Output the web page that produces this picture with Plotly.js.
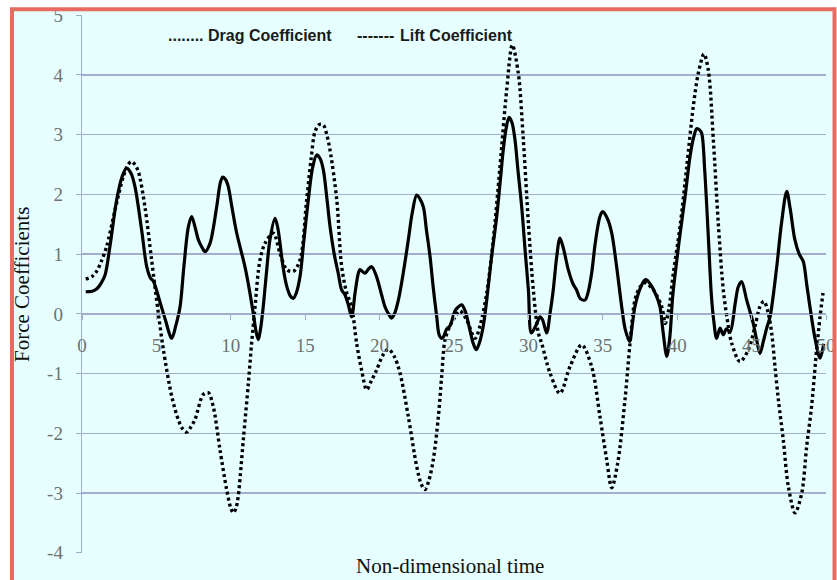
<!DOCTYPE html>
<html>
<head>
<meta charset="utf-8">
<script src="https://cdn.plot.ly/plotly-3.0.1.min.js"></script>
<style>
  html, body { margin: 0; padding: 0; background: #ffffff; }
  #chart { width: 837px; height: 580px; }
</style>
</head>
<body>
<div id="chart"></div>
<script>
// ---- Data ----
// Dotted series (legend: "Drag Coefficient")
const dragTime = [0.25,0.7,1.0,1.3,1.66,2.22,2.78,3.1,3.34,3.55,3.79,4.23,4.68,5.13,5.47,6.03,6.47,6.75,7.03,7.3,7.59,8.15,8.49,8.82,9.27,9.72,10.0,10.17,10.35,10.5,10.84,11.18,11.4,11.63,11.96,12.3,12.86,13.31,13.76,14.2,14.65,15.1,15.4,15.66,15.95,16.22,16.45,16.67,17.12,17.45,17.79,18.12,18.46,18.8,19.13,19.45,19.8,20.2,20.59,21.0,21.37,21.93,22.49,22.8,23.05,23.3,23.61,23.95,24.17,24.4,24.73,25.07,25.4,25.85,26.41,26.75,27.2,27.64,28.09,28.54,28.92,29.32,29.66,30.0,30.33,30.67,30.9,31.45,32.12,32.8,33.58,34.25,34.81,35.26,35.6,36.0,36.49,36.83,37.16,37.5,37.84,38.4,38.96,39.2,39.45,39.74,40.19,40.64,41.08,41.42,41.8,42.09,42.43,42.76,43.1,43.43,43.66,44.22,44.78,45.23,45.56,45.83,46.12,46.35,46.57,46.8,47.13,47.47,47.92,48.37,48.7,49.03,49.37,49.6,49.8];
const dragValue = [0.58,0.63,0.72,0.88,1.13,1.74,2.3,2.5,2.55,2.5,2.38,1.79,0.9,0.01,-0.6,-1.38,-1.77,-1.92,-1.98,-1.9,-1.77,-1.35,-1.32,-1.55,-2.27,-2.94,-3.25,-3.33,-3.25,-3.05,-2.11,-1.16,-0.49,0.12,0.9,1.18,1.35,1.01,0.74,0.71,0.9,1.91,2.6,3.05,3.17,3.16,3.0,2.74,1.91,0.79,0.35,0.12,-0.5,-0.95,-1.27,-1.12,-0.94,-0.7,-0.59,-0.72,-0.99,-1.72,-2.55,-2.85,-2.94,-2.8,-2.44,-1.72,-1.05,-0.43,-0.2,-0.05,0.05,-0.1,-0.41,-0.2,0.35,1.24,2.46,3.75,4.5,4.03,2.91,1.52,0.4,-0.32,-0.5,-0.99,-1.33,-0.88,-0.52,-0.88,-1.72,-2.44,-2.91,-2.5,-1.44,-0.49,0.23,0.45,0.52,0.4,0.12,-0.16,0.1,0.68,1.46,2.46,3.47,4.03,4.35,4.08,2.91,1.52,0.4,-0.2,-0.49,-0.8,-0.6,-0.21,0.12,0.21,0.01,-0.32,-0.88,-1.44,-2.11,-2.89,-3.33,-3.0,-2.22,-1.55,-0.6,-0.05,0.35];

// Solid series (legend: "Lift Coefficient")
const liftTime = [0.25,0.7,1.0,1.3,1.55,1.88,2.33,2.7,3.0,3.3,3.56,4.01,4.35,4.6,4.79,5.24,5.6,6.03,6.3,6.59,6.85,7.15,7.37,7.6,7.82,8.05,8.27,8.6,9.05,9.3,9.46,9.65,9.83,10.1,10.4,10.95,11.25,11.51,11.7,11.85,12.0,12.18,12.4,12.63,12.97,13.15,13.31,13.5,13.76,14.0,14.2,14.4,14.65,14.9,15.21,15.5,15.77,16.0,16.22,16.45,16.67,16.95,17.22,17.45,17.67,17.9,18.12,18.35,18.57,18.68,19.02,19.25,19.47,19.8,20.1,20.36,20.6,20.81,21.0,21.26,21.6,21.93,22.2,22.49,22.7,22.94,23.15,23.39,23.6,23.84,24.0,24.17,24.3,24.51,24.73,25.07,25.3,25.52,25.75,26.07,26.3,26.5,26.75,26.97,27.2,27.5,27.87,28.1,28.31,28.5,28.7,28.9,29.1,29.3,29.55,29.8,30.0,30.2,30.5,30.78,30.95,31.23,31.45,31.67,31.9,32.12,32.35,32.68,33.0,33.24,33.47,33.8,34.0,34.25,34.5,34.81,34.99,35.3,35.6,35.93,36.27,36.5,36.8,37.0,37.16,37.5,37.84,37.95,38.29,38.6,38.84,39.05,39.3,39.5,39.7,40.0,40.2,40.55,40.86,41.1,41.31,41.5,41.65,41.85,42.09,42.3,42.45,42.65,42.88,43.1,43.3,43.55,43.9,44.1,44.33,44.67,45.11,45.35,45.56,45.8,46.0,46.24,46.69,47.0,47.36,47.6,47.9,48.2,48.47,48.7,48.92,49.26,49.6,49.85];
const liftValue = [0.37,0.38,0.42,0.52,0.65,1.13,1.91,2.3,2.44,2.35,2.13,1.4,0.79,0.6,0.55,0.2,-0.1,-0.41,-0.2,0.12,0.8,1.46,1.63,1.45,1.24,1.12,1.04,1.18,1.79,2.2,2.29,2.25,2.13,1.75,1.35,0.79,0.4,0.01,-0.3,-0.43,-0.25,0.12,0.7,1.24,1.6,1.45,1.18,0.8,0.46,0.3,0.26,0.35,0.62,1.2,1.91,2.45,2.66,2.6,2.41,1.95,1.46,1.0,0.68,0.4,0.32,0.15,-0.05,0.35,0.68,0.74,0.68,0.75,0.79,0.62,0.35,0.12,0.0,-0.07,0.0,0.23,0.7,1.24,1.7,1.99,1.93,1.79,1.4,0.96,0.45,-0.05,-0.35,-0.41,-0.38,-0.25,-0.2,0.05,0.12,0.15,0.05,-0.27,-0.5,-0.6,-0.45,-0.2,0.23,0.9,1.63,2.2,2.74,3.1,3.29,3.2,2.91,2.4,1.79,1.0,0.4,-0.32,-0.2,-0.05,-0.1,-0.32,0.0,0.4,0.95,1.27,1.1,0.74,0.5,0.4,0.26,0.23,0.35,0.68,1.2,1.63,1.71,1.6,1.35,0.79,0.12,-0.25,-0.46,-0.15,0.12,0.42,0.57,0.57,0.46,0.3,0.12,-0.3,-0.71,-0.4,0.3,0.95,1.35,2.0,2.63,2.95,3.1,3.08,3.02,2.4,1.3,0.3,-0.1,-0.41,-0.24,-0.35,-0.25,-0.3,0.18,0.45,0.54,0.23,-0.16,-0.45,-0.66,-0.45,-0.25,-0.05,0.79,1.5,2.05,1.75,1.25,1.0,0.88,0.5,0.12,-0.41,-0.74,-0.5];

// Tick labels
const xTickVals = [0,5,10,15,20,25,30,35,40,45,50];
const xTickText = ["0","5","10","15","20","25","30","35","40","45","50"];
const yTickVals = [-4,-3,-2,-1,0,1,2,3,4,5];
const yTickText = ["-4","-3","-2","-1","0","1","2","3","4","5"];

// ---- Layout helpers (pixel -> paper) ----
const L = 82, R = 11, T = 15, B = 27, W = 837, H = 580;
const PW = W - L - R, PH = H - T - B;
const px = v => (v - L) / PW;
const py = v => (H - B - v) / PH;

const gridCol = '#A3AECB';
const tickFont = {family: 'Liberation Serif, serif', size: 19, color: '#707070'};
const titleFont = {family: 'Liberation Serif, serif', size: 21, color: '#111111'};
const legFont = {family: 'Liberation Sans, Arial, sans-serif', size: 16, color: '#1a1a1a', weight: 'bold'};

const traces = [
  {
    x: liftTime, y: liftValue, type: 'scatter', mode: 'lines',
    line: {color: '#000000', width: 3.2, shape: 'spline', smoothing: 0.9},
    hoverinfo: 'skip', showlegend: false
  },
  {
    x: dragTime, y: dragValue, type: 'scatter', mode: 'lines',
    line: {color: '#000000', width: 3.4, dash: '3px,3px', shape: 'spline', smoothing: 0.9},
    hoverinfo: 'skip', showlegend: false
  }
];

const yLo = -4.003, yHi = 5.003;
const layout = {
  width: W, height: H,
  margin: {l: L, r: R, t: T, b: B, pad: 0},
  paper_bgcolor: '#ffffff',
  plot_bgcolor: 'rgba(0,0,0,0)',
  showlegend: false,
  xaxis: {
    range: [0, 50],
    tickmode: 'array', tickvals: xTickVals, ticktext: xTickText,
    showgrid: false, zeroline: false,
    showline: true, linecolor: gridCol, linewidth: 1.3,
    ticks: 'outside', ticklen: 5, tickcolor: gridCol, tickwidth: 1,
    anchor: 'free', position: (0 - yLo) / (yHi - yLo),
    tickfont: tickFont, ticklabelstandoff: 9
  },
  yaxis: {
    range: [yLo, yHi],
    tickmode: 'array', tickvals: yTickVals, ticktext: yTickText,
    showgrid: true, gridcolor: gridCol, gridwidth: 1.3,
    zeroline: false,
    showline: true, linecolor: gridCol, linewidth: 1.3,
    ticks: 'outside', ticklen: 5, tickcolor: gridCol, tickwidth: 1,
    tickfont: tickFont, ticklabelstandoff: 9
  },
  shapes: [
    {type: 'rect', xref: 'paper', yref: 'paper', layer: 'below',
     x0: px(12), x1: px(834.5), y0: py(600), y1: py(9.3),
     fillcolor: '#E6FFFE', line: {width: 0}},
    {type: 'rect', xref: 'paper', yref: 'paper', layer: 'above',
     x0: px(-20), x1: px(860), y0: py(7.3), y1: py(-20),
     fillcolor: '#ffffff', line: {width: 0}},
    {type: 'rect', xref: 'paper', yref: 'paper', layer: 'above',
     x0: px(-20), x1: px(10), y0: py(600), y1: py(-20),
     fillcolor: '#ffffff', line: {width: 0}},
    {type: 'rect', xref: 'paper', yref: 'paper', layer: 'above',
     x0: px(12), x1: px(834.5), y0: py(600), y1: py(9.3),
     fillcolor: 'rgba(0,0,0,0)', line: {color: '#E86A60', width: 4}}
  ],
  annotations: [
    {text: 'Force Coefficients', xref: 'paper', yref: 'paper',
     x: px(22), y: py(285), xanchor: 'center', yanchor: 'middle',
     textangle: -90, showarrow: false, font: titleFont},
    {text: 'Non-dimensional time', xref: 'paper', yref: 'paper',
     x: px(450), y: py(566), xanchor: 'center', yanchor: 'middle',
     showarrow: false, font: titleFont},
    {text: '........', xref: 'paper', yref: 'paper',
     x: px(166), y: py(35), xanchor: 'left', yanchor: 'middle',
     showarrow: false, font: legFont},
    {text: 'Drag Coefficient', xref: 'paper', yref: 'paper',
     x: px(206), y: py(35), xanchor: 'left', yanchor: 'middle',
     showarrow: false, font: legFont},
    {text: '-------', xref: 'paper', yref: 'paper',
     x: px(355), y: py(35), xanchor: 'left', yanchor: 'middle',
     showarrow: false, font: legFont},
    {text: 'Lift Coefficient', xref: 'paper', yref: 'paper',
     x: px(398), y: py(35), xanchor: 'left', yanchor: 'middle',
     showarrow: false, font: legFont}
  ]
};

Plotly.newPlot('chart', traces, layout, {staticPlot: true, displayModeBar: false});
</script>
</body>
</html>
